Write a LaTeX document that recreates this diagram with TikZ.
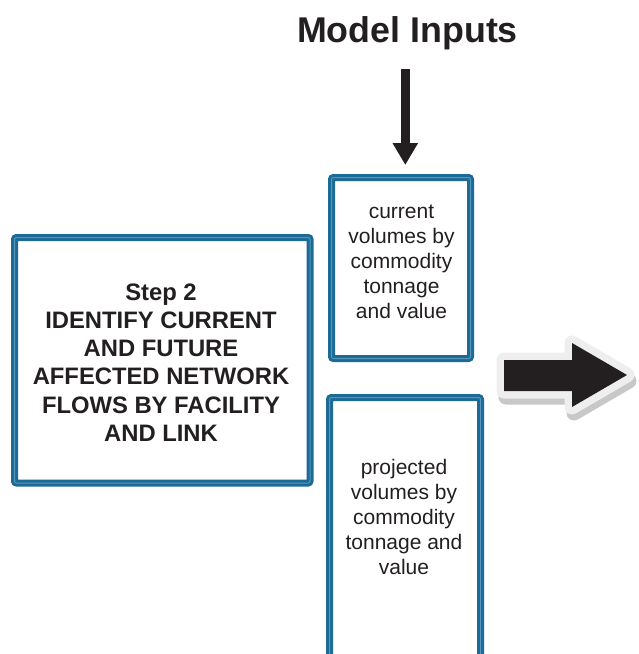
\documentclass[tikz,border=0pt]{standalone}
\usepackage{fontspec}
\setmainfont{Liberation Sans}
\usetikzlibrary{arrows.meta,calc}
\definecolor{frameblue}{RGB}{28,106,150}
\definecolor{frameinner}{RGB}{90,150,185}
\definecolor{inkblack}{RGB}{35,31,32}
\definecolor{halo}{RGB}{238,238,238}
\definecolor{haloshade}{RGB}{200,200,200}
\begin{document}
\begin{tikzpicture}[x=1pt,y=-1pt,
  framebox/.style={draw=frameblue, line width=3pt, double=frameinner,
    double distance=1pt, rounded corners=2pt, fill=white, inner sep=0pt},
  stepfont/.style={font=\fontsize{23.8}{28.3}\selectfont\bfseries, align=center, text=inkblack},
  inputfont/.style={font=\fontsize{21}{25}\selectfont, align=center, text=inkblack},
  bigarrow/.style={insert path={(504,360) -- (572,360) -- (572,343) -- (627,375)
    -- (572,407) -- (572,391) -- (504,391) -- cycle}}]
\useasboundingbox (0,0) rectangle (639,654);

% title
\node[font=\fontsize{35.8}{40}\selectfont\bfseries, text=inkblack, anchor=base] (title) at (407.5,42) {Model Inputs};

% step box
\node[framebox, minimum width=295.5pt, minimum height=245.5pt] (step) at (162.25,360.25) {};
\node[stepfont] (steptxt) at (161,362.5) {Step 2\\IDENTIFY CURRENT\\AND FUTURE\\AFFECTED NETWORK\\FLOWS BY FACILITY\\AND LINK};

% input boxes
\node[framebox, minimum width=139pt, minimum height=181pt] (cur) at (401,268) {};
\node[inputfont] (curtxt) at (401.5,262) {current\\volumes by\\commodity\\tonnage\\and value};

\node[framebox, minimum width=151pt, minimum height=265pt] (proj) at (405,530) {};
\node[inputfont] (projtxt) at (404,517) {projected\\volumes by\\commodity\\tonnage and\\value};

% input arrow, vertical from below the title down to the first input box
\coordinate (inputstart) at ([xshift=-2.2pt,yshift=-16pt]title.south);
\coordinate (inputend) at ([yshift=11pt]cur.north -| inputstart);
\draw[inkblack, line width=9.3pt, -{Triangle[width=24pt,length=22pt]}]
  (inputstart) -- (inputend);

% outgoing block arrow with halo and shadow
\path[draw=haloshade, fill=haloshade, line width=15pt, line join=round, shift={(2,6)}, bigarrow];
\path[draw=halo, fill=halo, line width=15pt, line join=round, bigarrow];
\path[fill=inkblack, bigarrow];
\end{tikzpicture}
\end{document}
